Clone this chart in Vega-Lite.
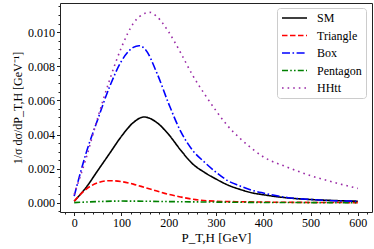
{
  "$schema": "https://vega.github.io/schema/vega-lite/v6.json",
  "width": 312,
  "height": 209,
  "autosize": {"type": "none"},
  "padding": {"left": 60, "top": 3, "right": 2, "bottom": 37},
  "config": {
    "view": {"stroke": "#222", "strokeWidth": 1},
    "font": "Liberation Serif"
  },
  "datasets": {
    "curves": [
      {"pt": 0, "val": 0.0001, "s": "SM"},
      {"pt": 25, "val": 0.0009, "s": "SM"},
      {"pt": 50, "val": 0.0019, "s": "SM"},
      {"pt": 75, "val": 0.0029, "s": "SM"},
      {"pt": 100, "val": 0.0039, "s": "SM"},
      {"pt": 125, "val": 0.0047, "s": "SM"},
      {"pt": 148, "val": 0.00503, "s": "SM"},
      {"pt": 175, "val": 0.0047, "s": "SM"},
      {"pt": 200, "val": 0.0040, "s": "SM"},
      {"pt": 225, "val": 0.0031, "s": "SM"},
      {"pt": 250, "val": 0.0023, "s": "SM"},
      {"pt": 275, "val": 0.0018, "s": "SM"},
      {"pt": 300, "val": 0.0014, "s": "SM"},
      {"pt": 325, "val": 0.00105, "s": "SM"},
      {"pt": 350, "val": 0.0008, "s": "SM"},
      {"pt": 375, "val": 0.0006, "s": "SM"},
      {"pt": 400, "val": 0.00048, "s": "SM"},
      {"pt": 450, "val": 0.0003, "s": "SM"},
      {"pt": 500, "val": 0.0002, "s": "SM"},
      {"pt": 550, "val": 0.00014, "s": "SM"},
      {"pt": 600, "val": 0.0001, "s": "SM"},

      {"pt": 0, "val": 0.0001, "s": "Triangle"},
      {"pt": 25, "val": 0.0008, "s": "Triangle"},
      {"pt": 50, "val": 0.00118, "s": "Triangle"},
      {"pt": 75, "val": 0.0013, "s": "Triangle"},
      {"pt": 100, "val": 0.00125, "s": "Triangle"},
      {"pt": 125, "val": 0.0011, "s": "Triangle"},
      {"pt": 150, "val": 0.0009, "s": "Triangle"},
      {"pt": 175, "val": 0.0007, "s": "Triangle"},
      {"pt": 200, "val": 0.0005, "s": "Triangle"},
      {"pt": 225, "val": 0.00035, "s": "Triangle"},
      {"pt": 250, "val": 0.00022, "s": "Triangle"},
      {"pt": 300, "val": 0.0001, "s": "Triangle"},
      {"pt": 350, "val": 0.00007, "s": "Triangle"},
      {"pt": 400, "val": 0.00005, "s": "Triangle"},
      {"pt": 500, "val": 0.00003, "s": "Triangle"},
      {"pt": 600, "val": 0.00002, "s": "Triangle"},

      {"pt": 0, "val": 0.0004, "s": "Box"},
      {"pt": 25, "val": 0.0029, "s": "Box"},
      {"pt": 50, "val": 0.0049, "s": "Box"},
      {"pt": 75, "val": 0.0068, "s": "Box"},
      {"pt": 100, "val": 0.0083, "s": "Box"},
      {"pt": 125, "val": 0.0091, "s": "Box"},
      {"pt": 137, "val": 0.0092, "s": "Box"},
      {"pt": 150, "val": 0.0090, "s": "Box"},
      {"pt": 175, "val": 0.0076, "s": "Box"},
      {"pt": 200, "val": 0.0058, "s": "Box"},
      {"pt": 225, "val": 0.0042, "s": "Box"},
      {"pt": 250, "val": 0.0031, "s": "Box"},
      {"pt": 275, "val": 0.0024, "s": "Box"},
      {"pt": 300, "val": 0.0018, "s": "Box"},
      {"pt": 325, "val": 0.0013, "s": "Box"},
      {"pt": 350, "val": 0.0010, "s": "Box"},
      {"pt": 375, "val": 0.00075, "s": "Box"},
      {"pt": 400, "val": 0.00058, "s": "Box"},
      {"pt": 450, "val": 0.00032, "s": "Box"},
      {"pt": 500, "val": 0.0002, "s": "Box"},
      {"pt": 550, "val": 0.00013, "s": "Box"},
      {"pt": 600, "val": 0.0001, "s": "Box"},

      {"pt": 0, "val": 0.00002, "s": "Pentagon"},
      {"pt": 50, "val": 0.00008, "s": "Pentagon"},
      {"pt": 100, "val": 0.00011, "s": "Pentagon"},
      {"pt": 150, "val": 0.0001, "s": "Pentagon"},
      {"pt": 200, "val": 0.00008, "s": "Pentagon"},
      {"pt": 300, "val": 0.00005, "s": "Pentagon"},
      {"pt": 400, "val": 0.00003, "s": "Pentagon"},
      {"pt": 500, "val": 0.00002, "s": "Pentagon"},
      {"pt": 600, "val": 0.00001, "s": "Pentagon"},

      {"pt": 0, "val": 0.0005, "s": "HHtt"},
      {"pt": 25, "val": 0.0026, "s": "HHtt"},
      {"pt": 50, "val": 0.0050, "s": "HHtt"},
      {"pt": 75, "val": 0.0072, "s": "HHtt"},
      {"pt": 100, "val": 0.0091, "s": "HHtt"},
      {"pt": 125, "val": 0.0105, "s": "HHtt"},
      {"pt": 150, "val": 0.0111, "s": "HHtt"},
      {"pt": 160, "val": 0.01115, "s": "HHtt"},
      {"pt": 175, "val": 0.0109, "s": "HHtt"},
      {"pt": 200, "val": 0.0100, "s": "HHtt"},
      {"pt": 225, "val": 0.0088, "s": "HHtt"},
      {"pt": 250, "val": 0.0075, "s": "HHtt"},
      {"pt": 275, "val": 0.0064, "s": "HHtt"},
      {"pt": 300, "val": 0.0054, "s": "HHtt"},
      {"pt": 325, "val": 0.0045, "s": "HHtt"},
      {"pt": 350, "val": 0.0038, "s": "HHtt"},
      {"pt": 375, "val": 0.0032, "s": "HHtt"},
      {"pt": 400, "val": 0.0027, "s": "HHtt"},
      {"pt": 450, "val": 0.0021, "s": "HHtt"},
      {"pt": 500, "val": 0.0016, "s": "HHtt"},
      {"pt": 550, "val": 0.0012, "s": "HHtt"},
      {"pt": 600, "val": 0.00085, "s": "HHtt"}
    ]
  },
  "data": {"name": "curves"},
  "mark": {"type": "line", "interpolate": "monotone", "strokeWidth": 1.6, "clip": true},
  "encoding": {
    "x": {
      "field": "pt", "type": "quantitative",
      "scale": {"domain": [-30, 630], "nice": false, "zero": false},
      "axis": {
        "values": [-20,0,20,40,60,80,100,120,140,160,180,200,220,240,260,280,300,320,340,360,380,400,420,440,460,480,500,520,540,560,580,600,620],
        "labelExpr": "datum.value % 100 === 0 ? datum.value : ''",
        "tickSize": {"condition": {"test": "datum.value % 100 === 0", "value": 3.5}, "value": 2},
        "tickColor": "#222",
        "domain": false,
        "grid": false,
        "labelFont": "Liberation Serif",
        "labelFontSize": 12,
        "labelColor": "#000",
        "labelPadding": 2,
        "labelFlush": false,
        "labelOverlap": false,
        "title": "P_T,H [GeV]",
        "titleFont": "Liberation Serif",
        "titleFontSize": 13,
        "titleFontWeight": "normal",
        "titleColor": "#000",
        "titlePadding": 3
      }
    },
    "y": {
      "field": "val", "type": "quantitative",
      "scale": {"domain": [-0.00053, 0.0117], "nice": false, "zero": false},
      "axis": {
        "values": [-0.0005,0,0.0005,0.001,0.0015,0.002,0.0025,0.003,0.0035,0.004,0.0045,0.005,0.0055,0.006,0.0065,0.007,0.0075,0.008,0.0085,0.009,0.0095,0.01,0.0105,0.011,0.0115],
        "labelExpr": "abs(datum.value/0.002 - round(datum.value/0.002)) < 0.01 ? format(datum.value, '.3f') : ''",
        "tickSize": {"condition": {"test": "abs(datum.value/0.002 - round(datum.value/0.002)) < 0.01", "value": 3.5}, "value": 2},
        "tickColor": "#222",
        "domain": false,
        "grid": false,
        "labelFont": "Liberation Serif",
        "labelFontSize": 12,
        "labelColor": "#000",
        "labelPadding": 2,
        "labelFlush": false,
        "labelOverlap": false,
        "title": "1/σ dσ/dP_T,H [GeV⁻¹]",
        "titleFont": "Liberation Serif",
        "titleFontSize": 12,
        "titleFontWeight": "normal",
        "titleColor": "#000",
        "titlePadding": 3
      }
    },
    "color": {
      "field": "s", "type": "nominal",
      "scale": {"domain": ["SM", "Triangle", "Box", "Pentagon", "HHtt"], "range": ["#000000", "#ff0000", "#0000ff", "#008000", "#9a2aa6"]},
      "legend": {
        "title": null,
        "orient": "none",
        "legendX": 217,
        "legendY": 5,
        "symbolType": "M-1,0H4",
        "symbolSize": 100,
        "symbolStrokeWidth": 1.6,
        "symbolFillColor": "transparent",
        "labelFont": "Liberation Serif",
        "labelFontSize": 12,
        "labelColor": "#000",
        "labelOffset": 24,
        "rowPadding": 5.5,
        "padding": 4,
        "offset": 0,
        "strokeColor": "#ccc",
        "fillColor": "#fff",
        "cornerRadius": 3
      }
    },
    "strokeDash": {
      "field": "s", "type": "nominal",
      "scale": {"domain": ["SM", "Triangle", "Box", "Pentagon", "HHtt"], "range": [[1, 0], [5.5, 2.5], [8, 2.5, 1.6, 2.5], [6, 2.2, 1.6, 2.2, 1.6, 2.2], [1.6, 4]]},
      "legend": null
    },
    "order": {"field": "pt", "type": "quantitative"}
  }
}
